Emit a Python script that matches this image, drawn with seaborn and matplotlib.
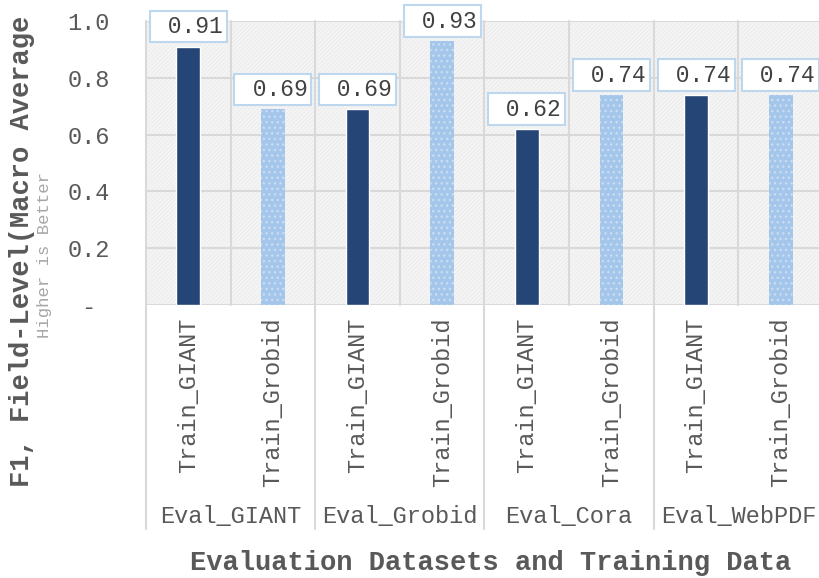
import numpy as np
import pandas as pd
import matplotlib
matplotlib.use('Agg')
import matplotlib.pyplot as plt
import seaborn as sns

# Chart values.
eval_sets = ['Eval_GIANT', 'Eval_Grobid', 'Eval_Cora', 'Eval_WebPDF']
train_sets = ['Train_GIANT', 'Train_Grobid']
f1_giant = [0.91, 0.69, 0.62, 0.74]
f1_grobid = [0.69, 0.93, 0.74, 0.74]
y_ticks = [0, 0.2, 0.4, 0.6, 0.8, 1.0]
y_tick_labels = ['- ', '0.2', '0.4', '0.6', '0.8', '1.0']

rows = []
for ev, g, b in zip(eval_sets, f1_giant, f1_grobid):
    rows.append({'eval': ev, 'train': train_sets[0], 'f1': g})
    rows.append({'eval': ev, 'train': train_sets[1], 'f1': b})
df = pd.DataFrame(rows)
df['key'] = df['eval'] + '|' + df['train']

sns.set_theme(style='white')
plt.rcParams['font.family'] = ['Liberation Mono', 'DejaVu Sans Mono']
plt.rcParams['hatch.linewidth'] = 1.0

grey = '#595959'
grid = '#d9d9d9'
navy = '#254577'
light = '#a4c6ea'

fig = plt.figure(figsize=(8.2, 5.78), dpi=100)
ax = fig.add_axes([146 / 820, 1 - 305 / 578, 677 / 820, 284 / 578])

# plot-area texture
ax.patch.set_facecolor('#f6f6f6')
ax.patch.set_hatch('////////')
ax.patch.set_edgecolor('#ededed')

sns.barplot(data=df, x='key', y='f1', hue='train', dodge=False, width=0.28,
            palette={train_sets[0]: navy, train_sets[1]: light}, saturation=1,
            legend=False, ax=ax, zorder=3)

# dotted fill on the Train_Grobid bars
for bar in ax.patches:
    if np.allclose(bar.get_facecolor()[:3], matplotlib.colors.to_rgb(light)):
        bar.set_hatch('...')
        bar.set_edgecolor('#c9ddf3')
        bar.set_linewidth(0)

ax.set_ylim(0, 1)
ax.set_xlim(-0.5, len(df) - 0.5)
ax.set_yticks(y_ticks)
ax.set_yticklabels(y_tick_labels)
ax.tick_params(axis='y', length=0, pad=26, labelsize=17, labelcolor=grey)
ax.set_xticks(range(len(df)))
ax.set_xticklabels(df['train'], rotation=90)
ax.tick_params(axis='x', length=0, pad=9, labelsize=17, labelcolor=grey)
ax.set_xlabel('')
ax.set_ylabel('')
for s in ax.spines.values():
    s.set_visible(False)

# gridlines
for yv in y_ticks:
    ax.axhline(yv, color=grid, lw=1.5, zorder=1)
xt = ax.get_xaxis_transform()
for i in range(len(df) + 1):
    bottom = -0.79 if i % 2 == 0 else 0
    ax.plot([i - 0.5, i - 0.5], [bottom, 1], color=grid, lw=1.5,
            transform=xt, clip_on=False, zorder=1)

# group labels
for j, ev in enumerate(eval_sets):
    ax.text(2 * j + 0.5, -0.745, ev, transform=xt, ha='center', va='center',
            fontsize=17, color=grey)

# value labels
for i, v in enumerate(df['f1']):
    ax.annotate(f' {v:.2f}', (i, v), xytext=(0, 6), textcoords='offset points',
                ha='center', va='bottom', fontsize=16.5, color='#404040',
                bbox=dict(boxstyle='square,pad=0.18', fc='white', ec='#bdd7ee', lw=1.5),
                annotation_clip=False, zorder=5)

fig.text(22 / 820, 1 - 251 / 578, 'F1, Field-Level(Macro Average', rotation=90,
         ha='center', va='center', fontsize=19.5, fontweight='bold', color=grey)
fig.text(45 / 820, 1 - 255 / 578, 'Higher is Better', rotation=90,
         ha='center', va='center', fontsize=12.4, color='#a6a6a6')
fig.text(491 / 820, 1 - 563 / 578, 'Evaluation Datasets and Training Data',
         ha='center', va='center', fontsize=19.5, fontweight='bold', color=grey)

fig.savefig('out.png', dpi=100)
